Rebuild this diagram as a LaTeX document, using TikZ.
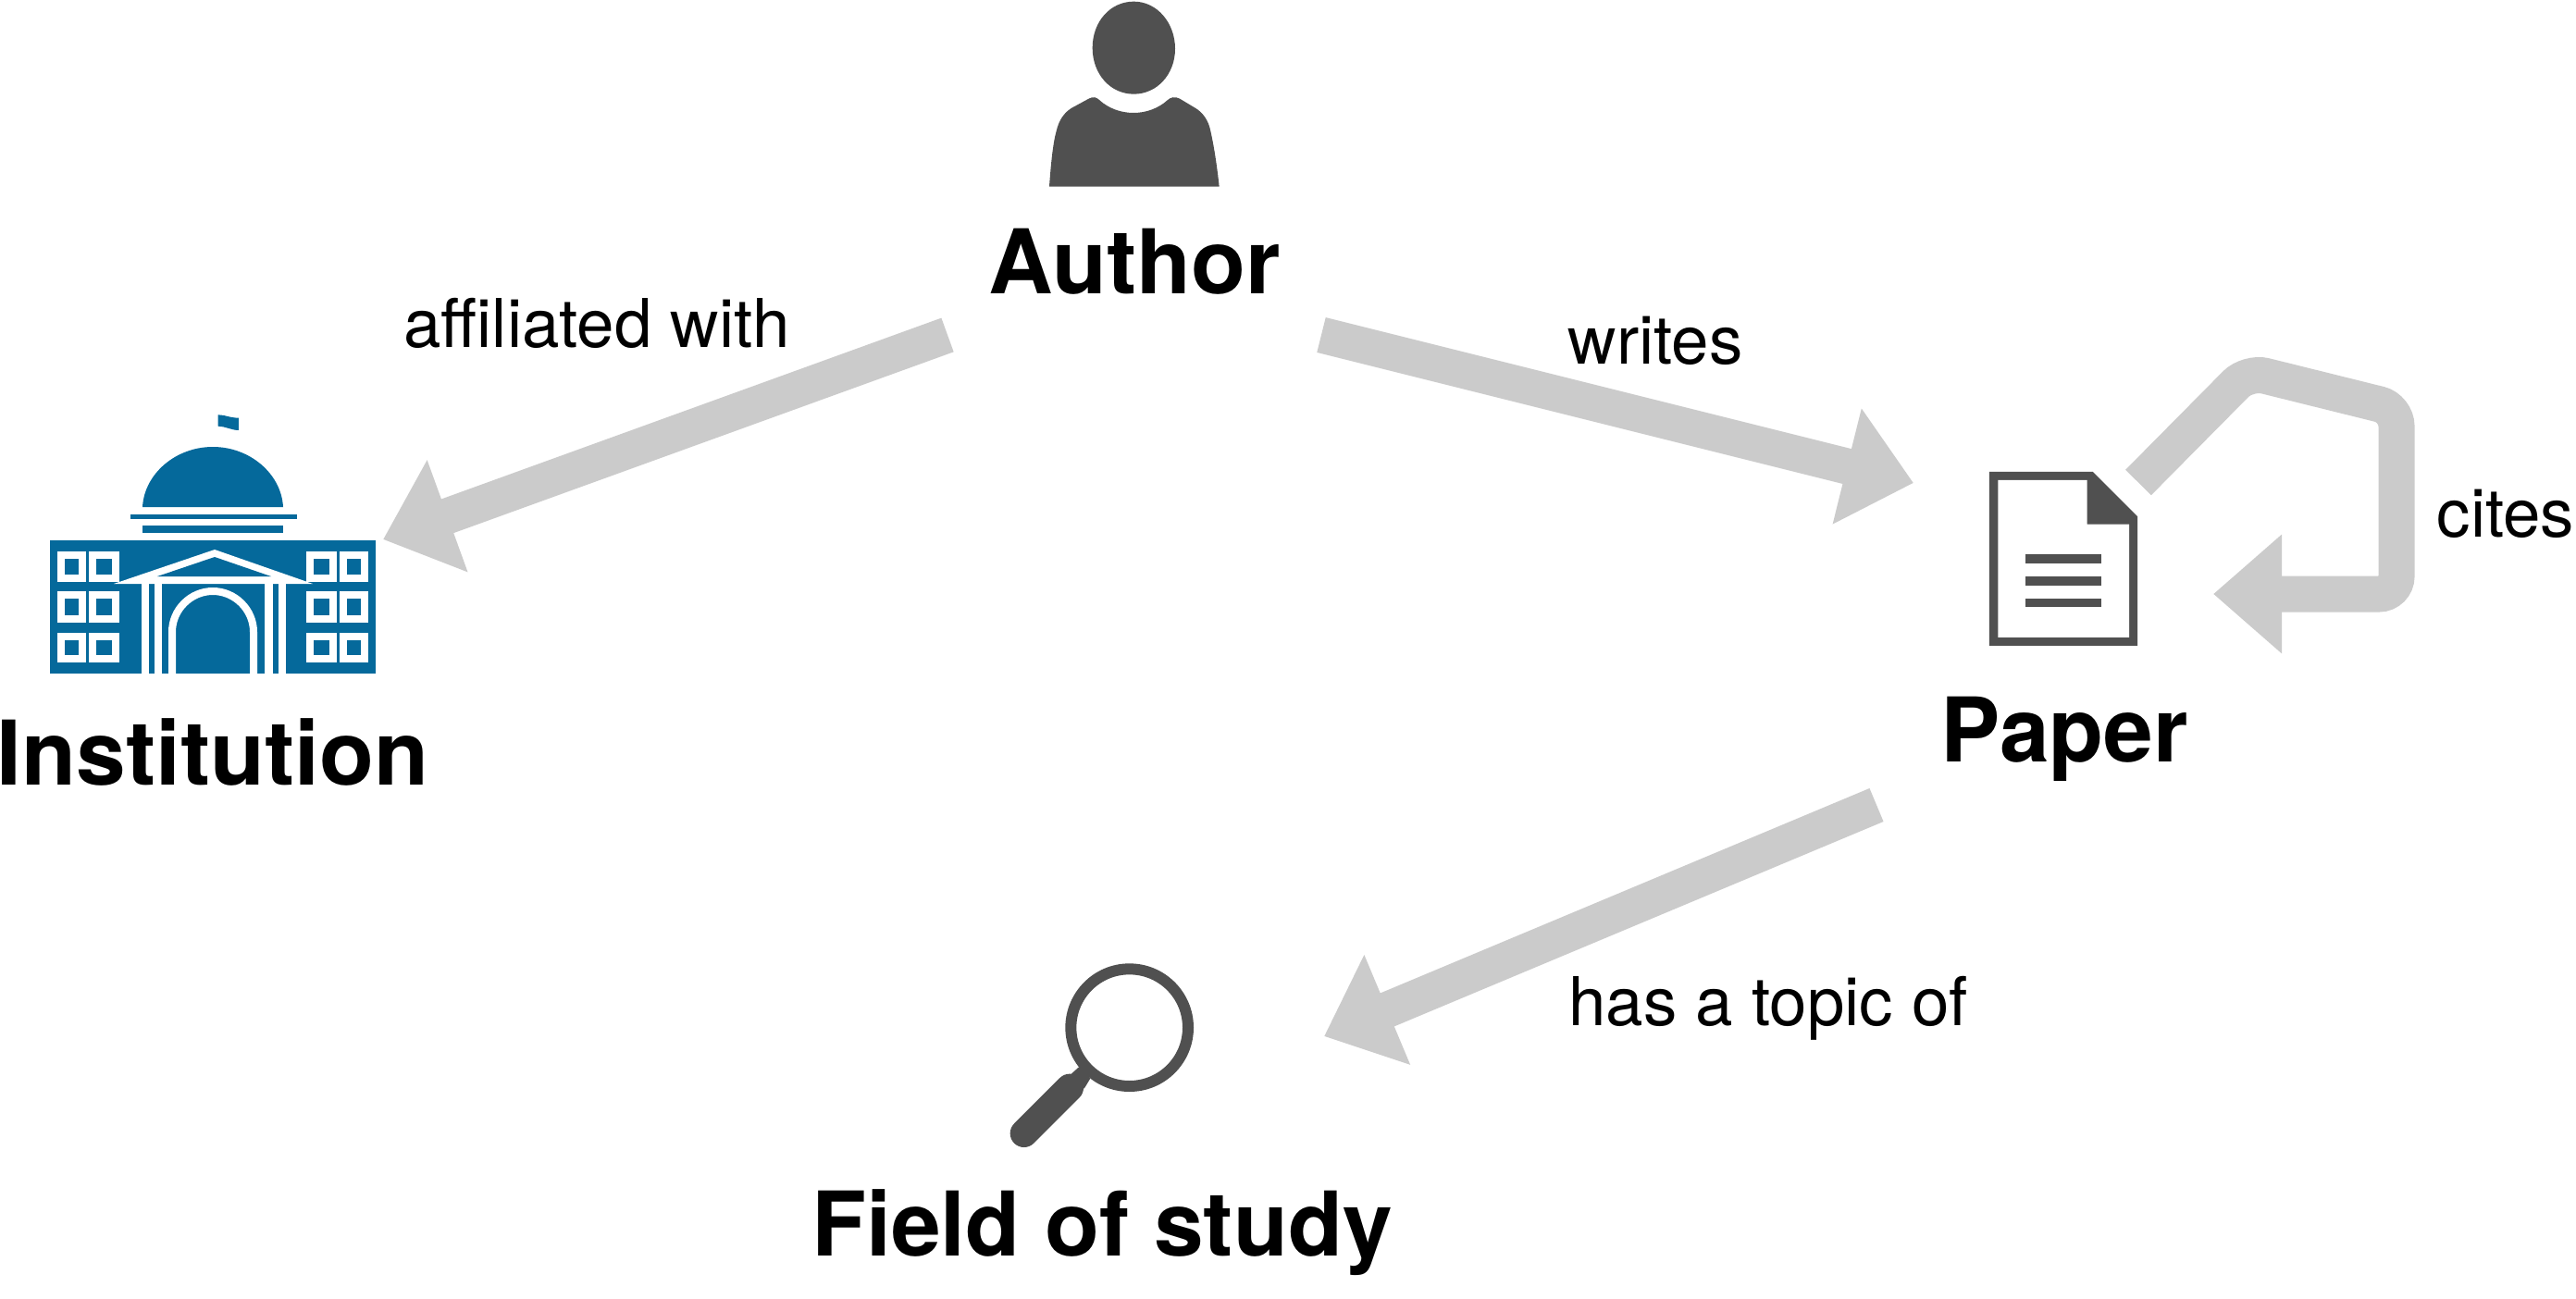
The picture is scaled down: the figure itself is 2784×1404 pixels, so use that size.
\documentclass[tikz,border=0pt]{standalone}
\usepackage{fontspec}
\setmainfont{TeX Gyre Heros}
\usetikzlibrary{arrows.meta}
\definecolor{flowgray}{HTML}{CBCBCB}
\definecolor{icongray}{HTML}{505050}
\definecolor{instblue}{HTML}{05699B}
\tikzset{
  flow/.style={draw=flowgray,line width=39pt,-{Triangle[length=74pt,width=124pt,fill=flowgray]}},
  entity/.style={anchor=base,inner sep=0pt,font=\bfseries\fontsize{96.5}{110}\selectfont,text=black},
  relation/.style={anchor=base,inner sep=0pt,font=\fontsize{72.7}{86}\selectfont,text=black},
  zoomed/.style={x=0.33333pt,y=-0.33333pt},
  zoomedb/.style={x=0.34444pt,y=-0.33333pt},
  win/.style={fill=white},
  pane/.style={fill=instblue}
}
\newcommand{\windowpair}[4]{%
  \fill[win] (#1,#3) rectangle (#2,#4);
  \fill[pane] ({#1+8},{#3+8}) rectangle ({#2-8},{#4-8});
}
\begin{document}
\begin{tikzpicture}[x=1pt,y=-1pt]
\useasboundingbox (0,0) rectangle (2784,1404);
\fill[white] (0,0) rectangle (2784,1404);

% Author icon
\begin{scope}[shift={(1080,0)},zoomed]
  \fill[icongray] (302,155) .. controls (302,70) and (360,5) .. (436,5)
     .. controls (512,5) and (570,75) .. (570,158)
     .. controls (570,240) and (512,305) .. (436,305)
     .. controls (360,305) and (302,240) .. (302,155) -- cycle;
  \fill[icongray] (162,605) .. controls (168,520) and (175,460) .. (185,425)
     .. controls (193,390) and (210,365) .. (235,350)
     -- (290,320) .. controls (305,312) and (315,315) .. (325,325)
     .. controls (355,352) and (395,366) .. (435,366)
     .. controls (475,366) and (515,352) .. (545,325)
     .. controls (555,315) and (570,312) .. (585,320)
     -- (635,350) .. controls (660,365) and (678,390) .. (685,425)
     .. controls (695,470) and (705,530) .. (713,605) -- cycle;
\end{scope}

% Institution icon
\fill[instblue] (54,584) rectangle (406,728);
\windowpair{62}{93}{596}{629}
\windowpair{96}{129}{596}{629}
\windowpair{331}{364}{596}{629}
\windowpair{367}{398}{596}{629}
\windowpair{62}{93}{639}{673}
\windowpair{96}{129}{639}{673}
\windowpair{331}{364}{639}{673}
\windowpair{367}{398}{639}{673}
\windowpair{62}{93}{684}{716}
\windowpair{96}{129}{684}{716}
\windowpair{331}{364}{684}{716}
\windowpair{367}{398}{684}{716}
\fill[white] (232,594) -- (338,631) -- (123,631) -- cycle;
\fill[instblue] (232,602) -- (293,623) -- (170,623) -- cycle;
\fill[white] (153,631) rectangle (161,728);
\fill[white] (167,631) rectangle (175,728);
\fill[white] (286,631) rectangle (295,728);
\fill[white] (301,631) rectangle (309,728);
\draw[white,line width=8pt] (186,728) -- (186,683) .. controls (186,659) and (206,639) .. (230,639)
   .. controls (254,639) and (274,659) .. (274,683) -- (274,728);
\fill[instblue] (154,548) .. controls (156,512) and (190,483) .. (230,483)
   .. controls (270,483) and (304,512) .. (306,548) -- cycle;
\fill[instblue] (141,556) rectangle (321,561);
\fill[instblue] (154,568) rectangle (306,576);
\begin{scope}[shift={(0,420)},zoomed]
  \fill[instblue] (707,85) .. controls (730,85) and (745,95) .. (774,95) -- (774,135)
    .. controls (750,135) and (730,122) .. (707,122) -- cycle;
\end{scope}

% Paper icon
\begin{scope}[shift={(2100,360)},zoomedb]
  \fill[icongray] (145,450) -- (470,450) -- (610,595) -- (610,1014) -- (145,1014) -- cycle;
  \fill[white] (172,477) -- (452,477) -- (452,620) -- (584,620) -- (584,987) -- (172,987) -- cycle;
  \fill[icongray] (258,718) rectangle (497,746);
  \fill[icongray] (258,790) rectangle (497,818);
  \fill[icongray] (258,861) rectangle (497,889);
\end{scope}

% Field of study icon
\begin{scope}[shift={(1060,1020)},zoomed]
  \draw[icongray,line width=12pt] (482,272) circle[radius=190];
  \draw[icongray,line width=30pt,line cap=round] (140,615) -- (288,467);
  \fill[icongray] (318,400) -- (355,437) -- (335,470) -- (290,425) -- cycle;
\end{scope}

% Labels
\node[entity] (author) at (1226,318) {Author};
\node[entity] (institution) at (230,848) {Institution};
\node[entity] (paper) at (2231,823) {Paper};
\node[entity] (field) at (1191,1357) {Field of study};
\node[relation] (laffil) at (645,376) {affiliated with};
\node[relation] (lwrites) at (1789,394) {writes};
\node[relation] (lcites) at (2708,580) {cites};
\node[relation] (ltopic) at (1911,1108) {has a topic of};

% Connector ends
\coordinate (affilS) at (1024,362);
\coordinate (affilT) at (414,583);
\coordinate (writesS) at (1428,362);
\coordinate (writesT) at (2068,522);
\coordinate (topicS) at (2028,870);
\coordinate (topicT) at (1431,1120);
\coordinate (citesS) at (2311,521.5);
\coordinate (citesA) at (2429.6,401.7);
\coordinate (citesB) at (2590,441.5);
\coordinate (citesC) at (2590,642);
\coordinate (citesT) at (2392,642);

\draw[flow] (affilS) -- (affilT);
\draw[flow] (writesS) -- (writesT);
\draw[flow] (topicS) -- (topicT);
\draw[flow,rounded corners=19pt] (citesS) -- (citesA) -- (citesB) -- (citesC) -- (citesT);
\end{tikzpicture}
\end{document}
